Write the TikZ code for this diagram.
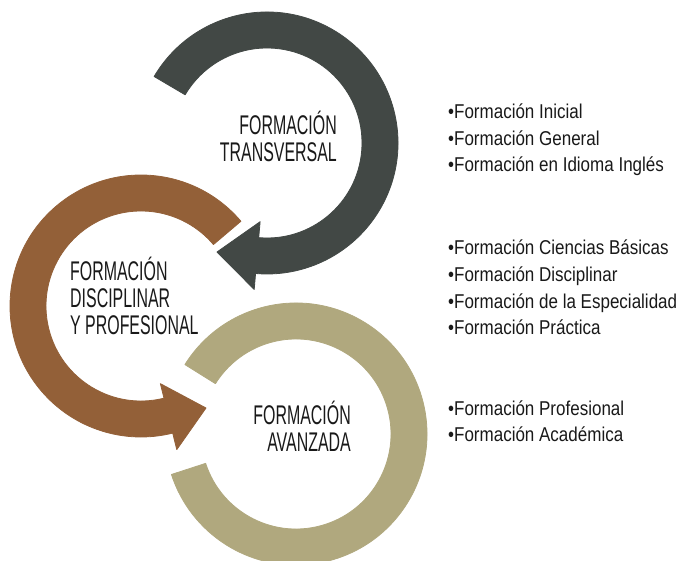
\documentclass[tikz,border=0pt]{standalone}
\usepackage{fontspec}
\setmainfont{Liberation Sans}
\newfontfamily\headfont[FakeStretch=0.59]{Liberation Sans}
\newfontfamily\listfont[FakeStretch=0.85]{Liberation Sans}
\definecolor{darkc}{RGB}{66,72,69}
\definecolor{brownc}{RGB}{147,96,56}
\definecolor{tanc}{RGB}{176,168,126}
\definecolor{txt}{RGB}{25,25,25}
\begin{document}
\begin{tikzpicture}[x=1pt,y=1pt,
  head/.style={font=\headfont\fontsize{27}{27}\selectfont, text=txt, inner sep=0pt},
  items/.style={font=\listfont\fontsize{20}{26.8}\selectfont, text=txt, inner sep=0pt, anchor=base west, align=left},
  band/.style={line width=0.8pt, line join=round}]
\useasboundingbox (0,0) rectangle (683,560);
\clip (0,0) rectangle (683,560);
% tan ring
\begin{scope}[shift={(296,126)}]
\fill[tanc, draw=tanc, band] (148:131pt) arc[start angle=148, end angle=-162, radius=131pt]
  -- (-162:95pt) arc[start angle=-162, end angle=148, radius=95pt] -- cycle;
\end{scope}
% brown arrow
\begin{scope}[shift={(141,254)}]
\fill[brownc, draw=brownc, band] (40.3:131pt) arc[start angle=40.3, end angle=284, radius=131pt]
  -- (284:148pt) -- (65pt,-102pt) -- (284:80pt) -- (284:95pt)
  arc[start angle=284, end angle=40.3, radius=95pt] -- cycle;
\end{scope}
% dark arrow
\begin{scope}[shift={(267,417)}]
\fill[darkc, draw=darkc, band] (149.5:131pt) arc[start angle=149.5, end angle=-95, radius=131pt]
  -- (-95:147pt) -- (-50pt,-109pt) -- (-95:79pt) -- (-95:95pt)
  arc[start angle=-95, end angle=149.5, radius=95pt] -- cycle;
\end{scope}
% headings (base anchor = last line)
\node[head, anchor=base east, align=right] (t1) at (337,398) {FORMACIÓN\\TRANSVERSAL};
\node[head, anchor=base west, align=left] (t2) at (70,225) {FORMACIÓN\\DISCIPLINAR\\Y PROFESIONAL};
\node[head, anchor=base east, align=right] (t3) at (351,108) {FORMACIÓN\\AVANZADA};
% lists
\node[items] (l1) at (448,388) {•Formación Inicial\\•Formación General\\•Formación en Idioma Inglés};
\node[items] (l2) at (448,225) {•Formación Ciencias Básicas\\•Formación Disciplinar\\•Formación de la Especialidad\\•Formación Práctica};
\node[items] (l3) at (448,118) {•Formación Profesional\\•Formación Académica};
\end{tikzpicture}
\end{document}
